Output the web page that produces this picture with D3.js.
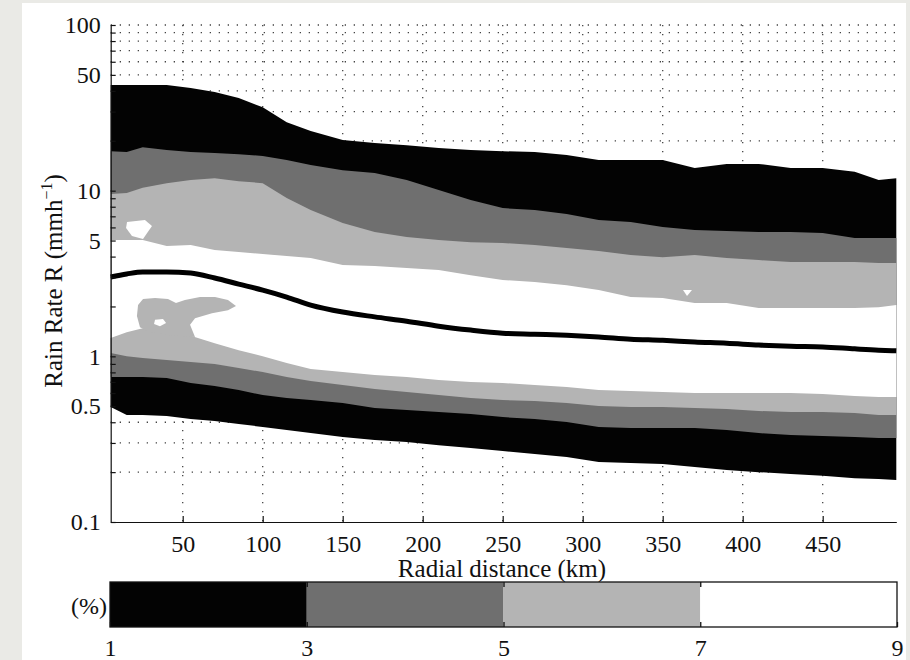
<!DOCTYPE html>
<html>
<head>
<meta charset="utf-8">
<script src="https://cdn.jsdelivr.net/npm/d3@7"></script>
<style>
  html, body { margin: 0; padding: 0; background: #eaeae6; }
  svg { display: block; }
  text { font-family: "Liberation Serif", "DejaVu Serif", Times, serif; fill: #111; }
</style>
</head>
<body>
<script>
// ---------------- DATA ----------------
// Radial distance sample points (km)
const distanceKm = [5, 15, 25, 40, 55, 70, 85, 100, 115, 130, 150, 170, 190, 210, 230, 250, 270, 290, 310, 330, 350, 370, 390, 410, 430, 450, 470, 485, 496];

// Contour boundaries of the frequency (%) field, rain rate in mm/h
const upper1 = [43.4, 43.4, 43.4, 43.4, 41.6, 39.4, 36.2, 31.9, 25.9, 22.9, 20.2, 19.4, 18.8, 18.1, 17.6, 17.3, 17.1, 16.4, 15.3, 15.3, 15.3, 13.7, 14.5, 14.5, 13.7, 13.7, 13.0, 11.6, 11.9];
const upper3 = [17.3, 17.1, 18.3, 17.6, 17.1, 16.9, 16.6, 16.2, 15.3, 14.3, 13.3, 12.8, 11.6, 10.1, 8.78, 7.85, 7.64, 7.22, 6.65, 6.46, 6.03, 5.78, 5.70, 5.63, 5.63, 5.55, 5.18, 5.18, 5.18];
const upper5 = [9.54, 9.67, 10.4, 11.1, 11.6, 11.9, 11.4, 11.1, 9.02, 7.64, 6.37, 5.63, 5.25, 5.03, 4.89, 4.83, 4.70, 4.50, 4.32, 4.09, 3.97, 4.09, 3.92, 3.81, 3.71, 3.71, 3.71, 3.66, 3.66];
const upper7 = [5.03, 5.03, 5.03, 4.63, 4.70, 4.38, 4.26, 4.14, 4.03, 3.92, 3.56, 3.51, 3.41, 3.32, 3.09, 2.89, 2.81, 2.69, 2.51, 2.28, 2.25, 2.10, 2.10, 1.96, 1.96, 1.96, 1.96, 1.98, 2.04];
const peakLine = [3.01, 3.14, 3.23, 3.23, 3.18, 2.97, 2.73, 2.51, 2.28, 2.04, 1.85, 1.73, 1.63, 1.52, 1.44, 1.38, 1.36, 1.34, 1.31, 1.27, 1.25, 1.22, 1.20, 1.17, 1.15, 1.14, 1.11, 1.09, 1.08];
const lower7 = [1.29, 1.40, 1.48, 1.44, 1.33, 1.20, 1.09, 1.00, 0.911, 0.838, 0.804, 0.771, 0.750, 0.719, 0.700, 0.690, 0.671, 0.653, 0.626, 0.617, 0.609, 0.600, 0.600, 0.600, 0.600, 0.592, 0.576, 0.568, 0.568];
const lower5 = [1.047, 1.00, 0.977, 0.950, 0.924, 0.899, 0.850, 0.804, 0.750, 0.710, 0.671, 0.635, 0.609, 0.584, 0.560, 0.545, 0.537, 0.523, 0.501, 0.494, 0.494, 0.488, 0.481, 0.468, 0.461, 0.461, 0.455, 0.442, 0.442];
const lower3 = [0.750, 0.750, 0.750, 0.740, 0.690, 0.662, 0.626, 0.584, 0.560, 0.545, 0.523, 0.488, 0.474, 0.461, 0.448, 0.430, 0.418, 0.401, 0.375, 0.369, 0.369, 0.369, 0.359, 0.344, 0.335, 0.330, 0.326, 0.321, 0.321];
const lower1 = [0.494, 0.442, 0.442, 0.436, 0.418, 0.407, 0.390, 0.375, 0.359, 0.344, 0.326, 0.313, 0.304, 0.291, 0.280, 0.268, 0.257, 0.247, 0.230, 0.227, 0.224, 0.215, 0.206, 0.200, 0.195, 0.190, 0.184, 0.182, 0.179];

// Small closed contours [km, mm/h]
const upperWhiteIsland = [[15.2, 6.46], [26.4, 6.65], [30.8, 6.11], [25.2, 5.10], [18.3, 5.32], [14.6, 5.95]];
const lowerGrayIsland = [[22.1, 2.04], [25.2, 2.22], [32.7, 2.25], [40.8, 2.22], [45.8, 2.10], [51.4, 2.19], [60.8, 2.28], [70.2, 2.28], [78.3, 2.19], [83.3, 2.01], [78.3, 1.90], [68.3, 1.82], [57.7, 1.70], [54.6, 1.55], [57.7, 1.31], [42.1, 1.34], [29.6, 1.40], [23.3, 1.50], [21.4, 1.75]];
const lowerIslandHole = [[32.7, 1.66], [37.7, 1.68], [39.6, 1.59], [35.8, 1.52], [32.1, 1.57]];
const smallNotch = [[362.7, 2.51], [368.3, 2.51], [365.2, 2.31]];

// Axis ticks
const xTicks = [50, 100, 150, 200, 250, 300, 350, 400, 450];
const yTickLabels = [0.1, 0.5, 1, 5, 10, 50, 100];
const yMinorTicks = [0.1, 0.2, 0.3, 0.4, 0.5, 0.6, 0.7, 0.8, 0.9, 1, 2, 3, 4, 5, 6, 7, 8, 9, 10, 20, 30, 40, 50, 60, 70, 80, 90, 100];

// Colour bar (%)
const levels = [1, 3, 5, 7, 9];
const levelColors = ["#030303", "#6f6f6f", "#b4b4b4", "#ffffff"];

// ---------------- DRAW ----------------
const W = 910, H = 660, FS = 24, FT = 25;
const svg = d3.select("body").append("svg").attr("width", W).attr("height", H);

svg.append("rect").attr("x", 0).attr("y", 0).attr("width", W).attr("height", H).attr("fill", "#eaeae6");
svg.append("rect").attr("x", 22).attr("y", 3).attr("width", 884).attr("height", 657).attr("fill", "#ffffff");

const x = d3.scaleLinear().domain([5, 496]).range([110.7, 896.3]);
const y = d3.scaleLog().domain([0.1, 100]).range([522, 25]);

// Grid (dotted) under the fills
const grid = svg.append("g").attr("stroke", "#444").attr("stroke-width", 1.3).attr("stroke-dasharray", "1.3,7.7");
grid.selectAll("line.h").data(yMinorTicks.filter(v => v > 0.1)).enter().append("line")
  .attr("x1", x(5)).attr("x2", x(496)).attr("y1", d => y(d)).attr("y2", d => y(d));
grid.selectAll("line.v").data(xTicks).enter().append("line")
  .attr("x1", d => x(d)).attr("x2", d => x(d)).attr("y1", y(100)).attr("y2", y(0.1));

const rows = distanceKm.map((km, i) => ({
  km, u1: upper1[i], u3: upper3[i], u5: upper5[i], u7: upper7[i],
  p: peakLine[i], l7: lower7[i], l5: lower5[i], l3: lower3[i], l1: lower1[i]
}));

const band = (lo, hi) => d3.area().x(d => x(d.km)).y0(d => y(d[lo])).y1(d => y(d[hi]));
const poly = d3.line().x(d => x(d[0])).y(d => y(d[1])).curve(d3.curveLinearClosed);

svg.append("path").datum(rows).attr("d", band("l1", "u1")).attr("fill", levelColors[0]);
svg.append("path").datum(rows).attr("d", band("l3", "u3")).attr("fill", levelColors[1]);
svg.append("path").datum(rows).attr("d", band("l5", "u5")).attr("fill", levelColors[2]);
svg.append("path").datum(rows).attr("d", band("l7", "u7")).attr("fill", levelColors[3]);

svg.append("path").datum(lowerGrayIsland).attr("d", poly).attr("fill", levelColors[2]);
svg.append("path").datum(lowerIslandHole).attr("d", poly).attr("fill", levelColors[3]);
svg.append("path").datum(upperWhiteIsland).attr("d", poly).attr("fill", levelColors[3]);
svg.append("path").datum(smallNotch).attr("d", poly).attr("fill", levelColors[3]);

svg.append("path").datum(rows)
  .attr("d", d3.line().x(d => x(d.km)).y(d => y(d.p)).curve(d3.curveMonotoneX))
  .attr("fill", "none").attr("stroke", "#000").attr("stroke-width", 5);

// Axes
const fmtY = d => (yTickLabels.includes(d) ? String(d) : "");
const yAxis = d3.axisLeft(y).tickValues(yMinorTicks).tickFormat(fmtY).tickSizeInner(-5).tickSizeOuter(0).tickPadding(10);
const gy = svg.append("g").attr("transform", `translate(${x(5)},0)`).call(yAxis);

const xAxis = d3.axisBottom(x).tickValues(xTicks).tickSizeInner(-6).tickSizeOuter(0).tickPadding(13);
const gx = svg.append("g").attr("transform", `translate(0,${y(0.1)})`).call(xAxis);

[gx, gy].forEach(g => {
  g.attr("font-family", null).attr("font-size", null);
  g.select(".domain").attr("stroke", "#111").attr("stroke-width", 1.2);
  g.selectAll(".tick line").attr("stroke", "#111").attr("stroke-width", 1.2);
  g.selectAll("text").attr("fill", "#111").attr("font-size", FS)
    .style("font-family", '"Liberation Serif", serif');
});

// Axis labels
svg.append("text").attr("x", 502).attr("y", 577).attr("text-anchor", "middle").attr("font-size", FT)
  .text("Radial distance (km)");

const yl = svg.append("text").attr("transform", "translate(62,281) rotate(-90)")
  .attr("text-anchor", "middle").attr("font-size", FT);
yl.append("tspan").text("Rain Rate R (mmh");
yl.append("tspan").attr("dy", -10).attr("font-size", 16).text("−1");
yl.append("tspan").attr("dy", 10).text(")");

// Colour bar
const cx = d3.scaleLinear().domain([1, 9]).range([110, 897]);
const cbTop = 582, cbBot = 627;
svg.append("g").selectAll("rect").data(levelColors).enter().append("rect")
  .attr("x", (d, i) => cx(levels[i])).attr("width", (d, i) => cx(levels[i + 1]) - cx(levels[i]))
  .attr("y", cbTop).attr("height", cbBot - cbTop).attr("fill", d => d);
svg.append("rect").attr("x", cx(1)).attr("y", cbTop).attr("width", cx(9) - cx(1)).attr("height", cbBot - cbTop)
  .attr("fill", "none").attr("stroke", "#111").attr("stroke-width", 1.3);

const cAxis = d3.axisBottom(cx).tickValues(levels).tickFormat(d3.format("d")).tickSizeInner(-5).tickSizeOuter(0).tickPadding(12);
const gc = svg.append("g").attr("transform", `translate(0,${cbBot})`).call(cAxis);
gc.attr("font-family", null).attr("font-size", null);
gc.select(".domain").remove();
gc.selectAll(".tick line").attr("stroke", "#111").attr("stroke-width", 1.3);
gc.selectAll("text").attr("font-size", FS).attr("fill", "#111").style("font-family", '"Liberation Serif", serif');
const cAxisTop = d3.axisTop(cx).tickValues(levels.slice(1, 4)).tickFormat("").tickSizeInner(-5).tickSizeOuter(0);
const gct = svg.append("g").attr("transform", `translate(0,${cbTop})`).call(cAxisTop);
gct.select(".domain").remove();
gct.selectAll(".tick line").attr("stroke", "#111").attr("stroke-width", 1.3);

svg.append("text").attr("x", 107).attr("y", 614).attr("text-anchor", "end").attr("font-size", FS).text("(%)");
</script>
</body>
</html>
